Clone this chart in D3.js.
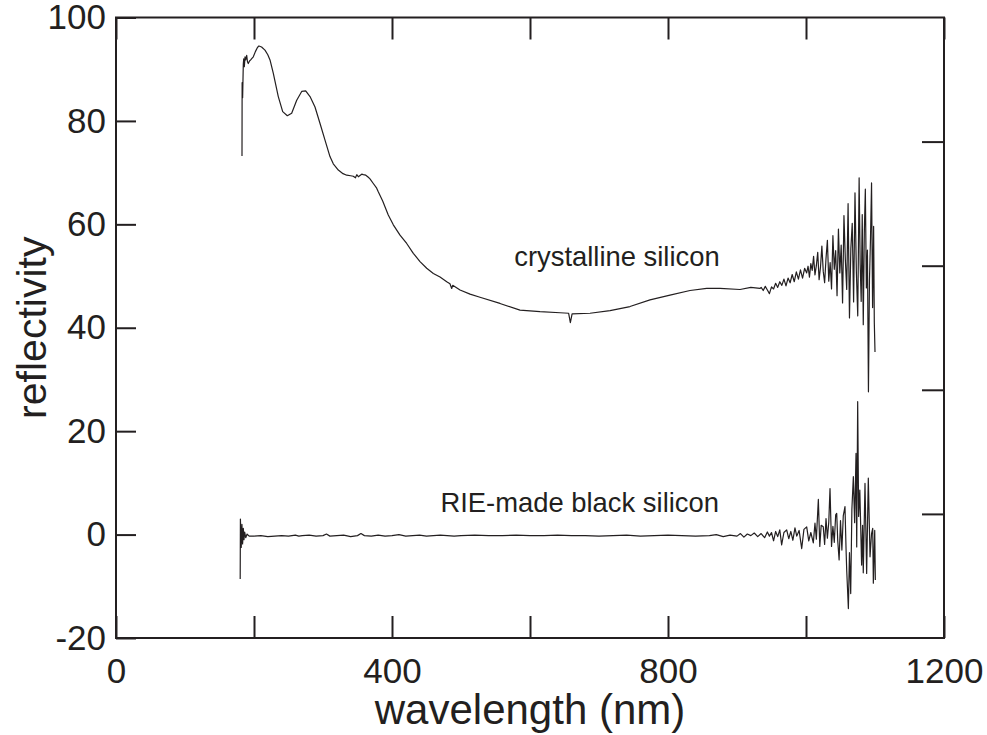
<!DOCTYPE html>
<html>
<head>
<meta charset="utf-8">
<script src="https://cdn.jsdelivr.net/npm/d3@7"></script>
<style>
  html, body { margin: 0; padding: 0; background: #fff; }
  svg { display: block; font-family: "Liberation Sans", Arial, Helvetica, sans-serif; }
</style>
</head>
<body>
<svg id="chart" width="987" height="735"></svg>
<script>
// Reflectivity spectra (wavelength in nm, reflectivity in %)
const crystallineWavelength = [
  182.6, 182.8, 183.5, 184.5, 185.1, 186.0, 187.0, 188.0, 189.4, 190.5, 191.7, 193.5, 195.2, 197.0, 199.0,
  202.0, 205.0, 207.2, 211.0, 215.9, 220.0, 223.2, 228.0, 235.2, 241.6, 248.3, 254.6, 261.9, 269.1, 274.9,
  281.2, 288.4, 295.7, 302.9, 310.1, 314.9, 322.2, 329.0, 334.4, 340.0, 343.9, 347.0, 349.0, 351.2, 356.1,
  358.4, 362.0, 365.7, 368.1, 372.9, 377.8, 380.1, 386.5, 394.6, 401.9, 411.6, 421.3, 430.9, 440.6, 450.3,
  459.9, 469.6, 479.3, 484.0, 486.5, 488.0, 498.6, 513.1, 527.5, 556.5, 585.5, 614.5, 643.5, 656.0, 658.5,
  661.0, 687.0, 716.0, 744.9, 773.9, 802.9, 831.9, 856.1, 875.4, 904.4, 920.0, 933.3,
  935, 938, 941, 944, 947, 950, 953, 956, 959, 962, 965, 968, 971, 974, 977, 980, 983, 986, 989, 992, 995, 998,
  1001, 1003, 1005, 1007, 1009, 1011, 1013, 1015, 1017, 1019, 1021, 1023, 1025, 1027, 1029, 1031, 1033, 1035,
  1037, 1039, 1041, 1043, 1045, 1047, 1049, 1051, 1053, 1055, 1057, 1059, 1061, 1063, 1065, 1067, 1069, 1071,
  1073, 1075, 1077, 1078.5, 1080, 1081.5, 1083, 1084.5, 1086, 1087.5, 1089, 1090.5, 1092, 1093.5, 1095, 1096.5,
  1098, 1099, 1100
];
const crystallineReflectivity = [
  73.2, 87.4, 84.5, 91.0, 92.0, 90.5, 92.4, 91.8, 92.7, 91.5, 91.1, 91.6, 91.8, 92.1, 92.4,
  93.4, 94.2, 94.5, 94.3, 93.7, 92.8, 91.8, 89.2, 84.7, 81.8, 81.0, 81.5, 84.0, 85.7, 85.8,
  84.7, 82.7, 79.5, 76.3, 73.1, 71.7, 70.5, 69.8, 69.5, 69.4, 69.3, 69.0, 69.6, 69.2, 69.7,
  69.6, 69.5, 69.1, 68.8, 67.9, 67.0, 66.3, 64.5, 61.8, 59.9, 57.9, 56.3, 54.4, 52.8, 51.5,
  50.5, 49.8, 48.9, 48.5, 47.6, 48.2, 47.3, 46.5, 45.9, 44.7, 43.4, 43.1, 42.9, 42.8, 41.0,
  42.7, 42.8, 43.3, 44.1, 45.4, 46.3, 47.2, 47.6, 47.6, 47.4, 47.8, 47.6,
  47.8, 47.2, 48.0, 47.3, 46.6, 47.9, 47.5, 48.6, 47.8, 48.9, 48.2, 49.4, 48.1, 49.6, 48.7, 50.3, 48.9, 50.8, 49.4, 51.2, 49.6, 51.5,
  50.6, 51.9, 49.8, 52.4, 51.1, 53.8, 50.2, 52.0, 54.6, 49.3, 51.7, 55.8, 50.9, 48.7, 53.4, 56.9, 49.0, 52.6,
  47.5, 57.8, 51.3, 54.9, 46.2, 59.1, 50.6, 56.0, 44.8, 61.7, 53.2, 47.4, 64.0, 41.9, 55.3, 60.2, 45.0, 66.1,
  50.8, 42.3, 69.0, 52.4, 45.1, 61.9, 40.6, 58.3, 66.8, 47.7, 55.0, 27.6, 49.3, 57.4, 68.0, 43.9,
  59.6, 41.0, 35.3
];

const blackWavelength = [
  180.0, 180.3, 181.5, 182.5, 183.5, 184.5, 185.5, 186.5, 188, 190, 193,
  200, 210, 220, 230, 240, 250, 260, 265, 270, 280, 290, 300, 305, 310, 320, 330, 340, 350, 355, 360,
  370, 380, 390, 400, 410, 420, 430, 440, 450, 460, 470, 480, 490, 500, 520, 540, 560, 580, 600, 620,
  640, 660, 680, 700, 720, 740, 760, 780, 800, 820, 840, 860, 870, 880, 890, 900, 905, 910, 915, 920,
  925, 930, 935, 940, 944, 947, 950, 953, 956, 959,
  962, 964.7, 968, 972, 975, 978, 981, 984, 986.6, 990, 993.8, 997, 1001, 1004, 1007, 1010.6, 1013, 1015,
  1017.9, 1020, 1022, 1025, 1027, 1029, 1031, 1033, 1034.8, 1037, 1039, 1041, 1043, 1044.5, 1046, 1048,
  1050, 1052, 1054, 1056.5, 1058, 1059, 1061.4, 1063, 1064.8, 1066.5, 1068.6, 1070.5, 1072.5, 1073.5,
  1074.9, 1076.3, 1078, 1080.6, 1082, 1083, 1085.5, 1087.9, 1090.3, 1092.8, 1095, 1096.7, 1097.6, 1099.6, 1100.5
];
const blackReflectivity = [
  -8.6, 3.0, -2.5, 2.0, -1.8, 1.2, -1.0, 0.5, -0.6, 0.1, -0.3,
  -0.3, -0.2, -0.4, -0.3, -0.2, -0.3, -0.1, -0.3, -0.2, -0.1, -0.3, -0.2, 0.1, -0.3, -0.2, -0.1, -0.4, -0.2, 0.2, -0.2,
  -0.3, -0.1, -0.3, -0.2, 0.0, -0.3, -0.2, -0.1, -0.3, -0.2, -0.1, -0.2, -0.3, -0.2, -0.1, -0.2, -0.2, -0.1, -0.2, -0.2,
  -0.1, -0.2, -0.2, -0.3, -0.2, -0.1, -0.3, -0.2, -0.1, -0.2, -0.3, -0.2, 0.0, -0.4, -0.1, -0.3, 0.2, -0.5, 0.1, -0.2,
  0.3, -0.4, 0.2, -0.6, 0.5, -0.3, 0.4, -1.2, 0.6, -0.4,
  0.9, -2.0, 0.4, 0.9, -0.8, 0.6, -1.1, 1.3, -0.3, 0.8, -2.7, 1.0, 1.5, -1.2, 0.4, -1.6, 2.2, -0.9,
  6.8, -2.3, 1.8, 1.5, -1.9, 3.1, -0.7, 2.4, 8.9, -2.3, 1.6, -1.5, 3.8, 4.1, -1.2, -4.9,
  2.7, -3.0, 3.6, 5.4, -2.6, -6.9, -14.3, -3.5, -11.4, 4.9, 11.2, 2.3, 15.7, -2.4,
  25.7, 3.5, 8.6, -5.9, 1.8, -7.4, 9.9, -7.5, 10.9, -4.3, 0.2, 1.2, -9.4, 0.8, -8.8
];

const xTickValues = [0, 200, 400, 600, 800, 1000, 1200];
const xTickLabels = [0, 400, 800, 1200];
const yTickValues = [-20, 0, 20, 40, 60, 80, 100];
const rightTickValues = [1, 2, 3, 4];

const ink = "#231f20";
const svg = d3.select("#chart");

const plotLeft = 116, plotRight = 944, plotTop = 17.5, plotBottom = 638;

const x = d3.scaleLinear().domain([0, 1200]).range([plotLeft, plotRight]);
const y = d3.scaleLinear().domain([-20, 100]).range([plotBottom, plotTop]);
const yRight = d3.scaleLinear().domain([0, 5]).range([plotBottom, plotTop]);

// Axes: all ticks point into the plot
const gx = svg.append("g").attr("transform", `translate(0,${plotBottom})`)
  .call(d3.axisBottom(x).tickValues(xTickValues).tickSizeInner(-22).tickSizeOuter(0).tickPadding(20)
    .tickFormat(d => xTickLabels.includes(d) ? String(d) : ""));
const gxTop = svg.append("g").attr("transform", `translate(0,${plotTop})`)
  .call(d3.axisTop(x).tickValues(xTickValues).tickSizeInner(-22).tickSizeOuter(0).tickFormat(""));
const gy = svg.append("g").attr("transform", `translate(${plotLeft},0)`)
  .call(d3.axisLeft(y).tickValues(yTickValues).tickSizeInner(-20).tickSizeOuter(0).tickPadding(10)
    .tickFormat(d => String(d)));
const gyRight = svg.append("g").attr("transform", `translate(${plotRight},0)`)
  .call(d3.axisRight(yRight).tickValues(rightTickValues).tickSizeInner(-22).tickSizeOuter(0).tickFormat(""));

[gx, gxTop, gy, gyRight].forEach(g => {
  g.select(".domain").remove();
  g.selectAll(".tick line").attr("stroke", ink).attr("stroke-width", 2);
  g.selectAll(".tick text").attr("fill", ink).attr("font-size", 35)
    .attr("font-family", "\"Liberation Sans\", Arial, sans-serif");
});

// Plot frame
svg.append("rect")
  .attr("x", plotLeft).attr("y", plotTop)
  .attr("width", plotRight - plotLeft).attr("height", plotBottom - plotTop)
  .attr("fill", "none").attr("stroke", ink).attr("stroke-width", 2);

// Spectra
const line = d3.line().x(d => x(d[0])).y(d => y(d[1]));
const crystalline = d3.zip(crystallineWavelength, crystallineReflectivity);
const black = d3.zip(blackWavelength, blackReflectivity);

svg.append("path").datum(crystalline)
  .attr("d", line).attr("fill", "none").attr("stroke", ink)
  .attr("stroke-width", 1.2).attr("stroke-linejoin", "round");
svg.append("path").datum(black)
  .attr("d", line).attr("fill", "none").attr("stroke", ink)
  .attr("stroke-width", 1.2).attr("stroke-linejoin", "round");

// Curve labels
svg.append("text").attr("x", x(726)).attr("y", y(52))
  .attr("text-anchor", "middle").attr("font-size", 27.4).attr("fill", ink)
  .text("crystalline silicon");
svg.append("text").attr("x", x(672)).attr("y", y(4.4))
  .attr("text-anchor", "middle").attr("font-size", 27.4).attr("fill", ink)
  .text("RIE-made black silicon");

// Axis titles
svg.append("text").attr("x", (plotLeft + plotRight) / 2).attr("y", 724)
  .attr("text-anchor", "middle").attr("font-size", 42).attr("fill", ink)
  .text("wavelength (nm)");
svg.append("text")
  .attr("transform", `translate(46,${(plotTop + plotBottom) / 2}) rotate(-90)`)
  .attr("text-anchor", "middle").attr("font-size", 41).attr("fill", ink)
  .text("reflectivity");
</script>
</body>
</html>
